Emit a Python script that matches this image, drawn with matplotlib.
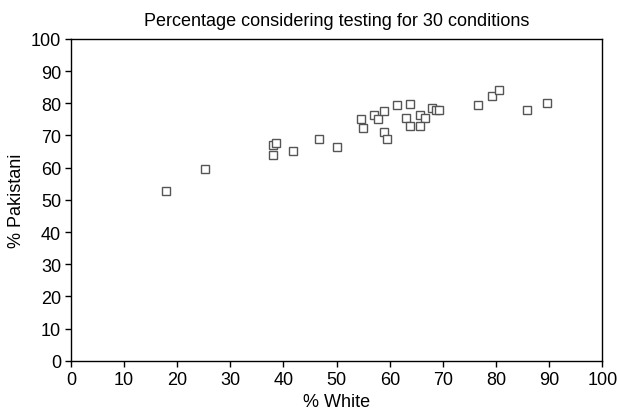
import matplotlib
matplotlib.use("Agg")
import matplotlib.pyplot as plt

plt.rcParams['font.family'] = ['Liberation Sans', 'DejaVu Sans']

white = [17.9, 25.2, 38.1, 38.6, 38.1, 41.8, 46.7, 50.1,
         54.6, 55.0, 57.1, 57.7, 58.9, 58.9, 59.5, 61.3, 63.9, 63.1,
         63.9, 65.7, 66.7, 65.7, 68.0, 68.7, 69.3, 76.6, 79.2, 80.5,
         85.9, 89.6]
pakistani = [52.6, 59.5, 66.9, 67.7, 63.8, 65.1, 68.9, 66.4,
             75.0, 72.3, 76.3, 75.0, 77.5, 71.1, 68.9, 79.3, 79.7, 75.5,
             72.9, 76.3, 75.5, 72.9, 78.5, 78.0, 78.0, 79.3, 82.3, 84.0,
             78.0, 80.1]
ticks = [0, 10, 20, 30, 40, 50, 60, 70, 80, 90, 100]

fig = plt.figure(figsize=(6.17, 4.14), dpi=100)
ax = fig.add_axes([0.1150, 0.1260, 0.8612, 0.7778])
ax.plot(white, pakistani, linestyle='none', marker='s', markersize=5.2,
        markerfacecolor='white', markeredgecolor='#555555', markeredgewidth=1.0)
ax.set_xlim(0, 100)
ax.set_ylim(0, 100)
ax.set_xticks(ticks)
ax.set_yticks(ticks)
ax.tick_params(direction='out', length=4, width=1, labelsize=13, colors='black', pad=3)
for s in ax.spines.values():
    s.set_linewidth(1.0)
    s.set_color('black')
ax.set_xlabel('% White', fontsize=13, labelpad=4)
ax.set_ylabel('% Pakistani', fontsize=13, labelpad=4)
ax.set_title('Percentage considering testing for 30 conditions', fontsize=13, pad=10)
fig.savefig('out.png', dpi=100)
